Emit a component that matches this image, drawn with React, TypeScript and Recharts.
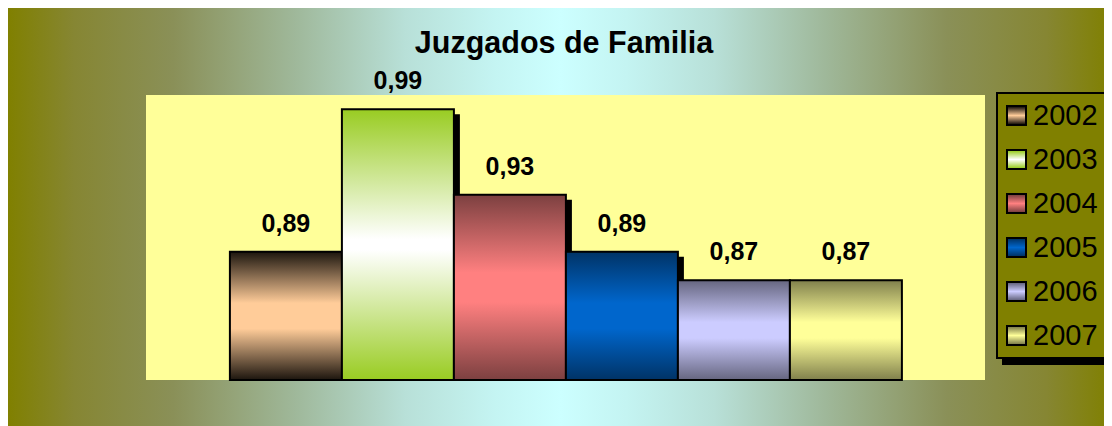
import React from "react";
import { BarChart, Bar, XAxis, YAxis, CartesianGrid, LabelList } from "recharts";

const title = "Juzgados de Familia";
const category = ["Juzgados de Familia"];
const years = ["2002", "2003", "2004", "2005", "2006", "2007"];
const values = [0.89, 0.99, 0.93, 0.89, 0.87, 0.87];

// gradient colours per series: [edge, middle]
const edgeColors = ["#1c150e", "#99cc22", "#7c4040", "#003366", "#666680", "#80804c"];
const midColors = ["#ffcc99", "#ffffff", "#ff8080", "#0066cc", "#ccccff", "#ffff99"];
const plateau = [0.1, 0.02, 0.08, 0.1, 0.08, 0.08];
const hasShadow = [true, true, true, true, true, false];

const data = category.map((c) => {
  const row: Record<string, any> = { name: c };
  years.forEach((y, i) => (row["y" + y] = values[i]));
  return row;
});

const FONT = "'Liberation Sans', Arial, Helvetica, sans-serif";
const W = 1104;
const H = 418;

const fmt = (v: any) => Number(v).toFixed(2).replace(".", ",");

const ShadowBar = (props: any) => {
  const { x, y, width, height, idx } = props;
  if (width == null || height == null || height <= 0) return null;
  return (
    <g>
      {hasShadow[idx] && (
        <rect x={x + 6} y={y + 5} width={width} height={Math.max(0, height - 5)} fill="#000" />
      )}
      <rect x={x} y={y} width={width} height={height} fill={`url(#grad${idx})`} stroke="#000" strokeWidth={2} />
    </g>
  );
};

const LegendBox = () => (
  <div
    style={{
      position: "absolute",
      left: 988,
      top: 84,
      boxSizing: "border-box",
      width: 115,
      height: 267,
      border: "2px solid #000",
      background: "#808000",
      boxShadow: "6px 6px 0 #000",
      display: "flex",
      flexDirection: "column",
      fontFamily: FONT,
    }}
  >
    {years.map((y, i) => (
      <div key={y} style={{ flex: 1, display: "flex", alignItems: "center", paddingLeft: 8 }}>
        <div
          style={{
            boxSizing: "border-box",
            width: 21,
            height: 21,
            border: "2px solid #000",
            background: `linear-gradient(to bottom, ${edgeColors[i]}, ${midColors[i]}, ${edgeColors[i]})`,
            marginRight: 6,
          }}
        />
        <span style={{ fontSize: 29, lineHeight: "29px", color: "#000" }}>{y}</span>
      </div>
    ))}
  </div>
);

export default function App() {
  return (
    <div
      style={{
        position: "relative",
        width: W,
        height: H,
        background:
          "linear-gradient(to right, #808000 0%, #868633 6%, #8a9058 15%, #9fb89a 26%, #b8e0d8 36%, #c4f4f2 44%, #ccffff 50%, #c4f4f2 56%, #b8e0d8 64%, #9fb89a 74%, #8a9058 85%, #868633 94%, #808000 100%)",
      }}
    >
      <BarChart
        width={W}
        height={H}
        data={data}
        margin={{ top: 87, right: 127, bottom: 46, left: 138 }}
        barCategoryGap="10%"
        barGap={0}
      >
        <defs>
          {years.map((y, i) => (
            <linearGradient key={y} id={`grad${i}`} x1="0" y1="0" x2="0" y2="1">
              <stop offset="0%" stopColor={edgeColors[i]} />
              <stop offset={`${(0.5 - plateau[i]) * 100}%`} stopColor={midColors[i]} />
              <stop offset={`${(0.5 + plateau[i]) * 100}%`} stopColor={midColors[i]} />
              <stop offset="100%" stopColor={edgeColors[i]} />
            </linearGradient>
          ))}
        </defs>
        <CartesianGrid fill="#ffff99" horizontal={false} vertical={false} />
        <XAxis dataKey="name" hide />
        <YAxis hide domain={[0.8, 1.0]} />
        {years.map((y, i) => (
          <Bar
            key={y}
            dataKey={"y" + y}
            name={y}
            fill={midColors[i]}
            isAnimationActive={false}
            shape={(p: any) => <ShadowBar {...p} idx={i} />}
          >
            <LabelList
              dataKey={"y" + y}
              position="top"
              offset={20}
              formatter={fmt}
              style={{ fontFamily: FONT, fontSize: 25, fontWeight: "bold", fill: "#000" }}
            />
          </Bar>
        ))}
      </BarChart>
      <LegendBox />
      <svg
        width={W}
        height={H}
        style={{ position: "absolute", left: 0, top: 0, pointerEvents: "none" }}
      >
        <text x={556} y={45} textAnchor="middle" fontFamily={FONT} fontSize={30.5} fontWeight="bold" fill="#000">
          {title}
        </text>
      </svg>
    </div>
  );
}
